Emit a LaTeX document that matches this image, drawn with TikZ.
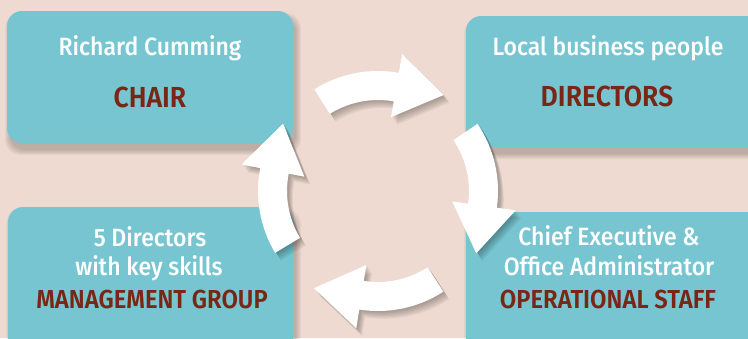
\documentclass[tikz,border=0pt]{standalone}
\usepackage{fontspec}
\setmainfont{Fira Sans Medium}[FakeStretch=0.92]
\newfontfamily\capsfont{Fira Sans SemiBold}[FakeStretch=0.915]
\usetikzlibrary{calc}
\definecolor{bgbeige}{HTML}{EEDAD0}
\definecolor{boxteal}{HTML}{77C5D0}
\definecolor{capred}{HTML}{7A2616}
\newcommand\cycarrowpath[1]{%
  (#1+34:120) arc[start angle=#1+34, end angle=#1-8, radius=120]
  -- (#1-8:139) -- ($(#1-8:106)+(#1-98:48)$) -- (#1-8:75) -- (#1-8:91)
  arc[start angle=#1-8, end angle=#1+34, radius=91] -- cycle}
\newcommand\cycarrow[1]{%
  \foreach \s in {1,...,6}{%
    \begin{scope}[shift={(1+0.8*\s,-1.3*\s)}]
      \fill[black,opacity=0.05] \cycarrowpath{#1};
    \end{scope}}
  \fill[white] \cycarrowpath{#1};}
\newcommand\boxshadow[4]{%
  \foreach \e in {0,...,5}{%
    \fill[black,opacity=0.035,rounded corners=15bp]
      ({#1+3-\e},{#2+7-\e}) rectangle ({#3+3+\e},{#4+7+\e});}}
\begin{document}
\begin{tikzpicture}[x=1bp,y=-1bp,
  box/.style={fill=boxteal, rounded corners=15bp, inner sep=0, outer sep=0, anchor=north west},
  wtxt/.style={text=white, anchor=base, inner sep=0, font=\fontsize{25bp}{30bp}\selectfont},
  rtxt/.style={text=capred, anchor=base, inner sep=0, font=\capsfont\fontsize{29bp}{34bp}\selectfont},
  rtxtsm/.style={rtxt, font=\capsfont\fontsize{26bp}{31bp}\selectfont}]
\useasboundingbox (0,0) rectangle (748,338);
\clip (0,0) rectangle (748,338);
\fill[bgbeige] (0,0) rectangle (748,338);
% box shadows
\boxshadow{7}{11}{293}{143}
\boxshadow{466}{16}{766}{147}
\boxshadow{8}{207}{293}{357}
\boxshadow{466}{212}{766}{362}
% boxes
\node[box, minimum width=286bp, minimum height=132bp] (chairbox) at (7,11) {};
\node[box, minimum width=300bp, minimum height=131bp] (dirbox) at (466,16) {};
\node[box, minimum width=285bp, minimum height=150bp] (mgbox) at (8,207) {};
\node[box, minimum width=300bp, minimum height=150bp] (opbox) at (466,212) {};
% texts
\node[wtxt] (chairname) at (150,55) {Richard Cumming};
\node[rtxt] (chair) at (150,107) {CHAIR};
\node[wtxt] (dirname) at (608,55) {Local business people};
\node[rtxt] (dir) at (607,106) {DIRECTORS};
\node[wtxt] (mg1) at (150,246) {5 Directors};
\node[wtxt] (mg2) at (149,275) {with key skills};
\node[rtxtsm] (mg) at (152,308) {MANAGEMENT GROUP};
\node[wtxt] (op1) at (609,245) {Chief Executive \&};
\node[wtxt] (op2) at (609,275) {Office Administrator};
\node[rtxtsm] (op) at (608,308) {OPERATIONAL STAFF};
% cycle arrows
\begin{scope}[shift={(378,191)}, x=1bp, y=1bp]
  \cycarrow{88}
  \cycarrow{0}
  \cycarrow{-91}
  \cycarrow{177}
\end{scope}
\end{tikzpicture}
\end{document}
